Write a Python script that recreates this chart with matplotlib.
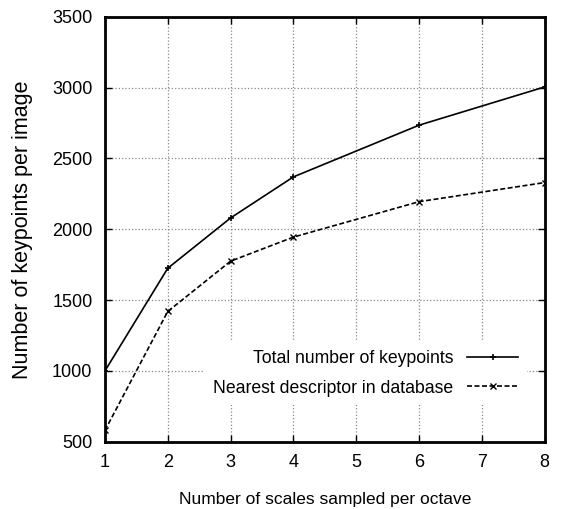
import matplotlib.pyplot as plt

# scales sampled per octave
scales = [1, 2, 3, 4, 6, 8]
total_keypoints = [1000, 1725, 2080, 2370, 2735, 3005]
nearest_in_db = [580, 1420, 1775, 1945, 2195, 2330]

plt.rcParams['font.family'] = ['Liberation Sans', 'DejaVu Sans']

fig = plt.figure(figsize=(5.61, 5.09), dpi=100)
ax = fig.add_axes([0.187, 0.132, 0.784, 0.835])

ax.plot(scales, total_keypoints, color='black', lw=1.2, marker='+', ms=5,
        mew=1.2, label="Total number of keypoints")
ax.plot(scales, nearest_in_db, color='black', lw=1.2, ls=(0, (3, 1.5)),
        marker='x', ms=4, mew=1.0, label="Nearest descriptor in database")

ax.set_xlim(1, 8)
ax.set_ylim(500, 3500)
ax.set_xticks(range(1, 9))
ax.set_yticks(range(500, 3501, 500))
ax.grid(True, color='#888888', ls=':', lw=0.9)
ax.set_axisbelow(True)
ax.tick_params(direction='in', top=True, right=True, length=5, width=1,
               labelsize=13, pad=9)
for s in ax.spines.values():
    s.set_linewidth(2)

ax.set_xlabel("Number of scales sampled per octave", fontsize=12.5, labelpad=15)
ax.set_ylabel("Number of keypoints per image", fontsize=15.5, va='center')
ax.yaxis.set_label_coords(-0.188, 0.5)

leg = ax.legend(loc='lower right', bbox_to_anchor=(0.98, 0.065), markerfirst=False,
                fontsize=12.7, frameon=True, fancybox=False, framealpha=1,
                edgecolor='none', facecolor='white', handlelength=2.9,
                labelspacing=0.7, borderpad=0.5)
for t in leg.get_texts():
    t.set_ha('right')

fig.savefig('out.png', dpi=100)
